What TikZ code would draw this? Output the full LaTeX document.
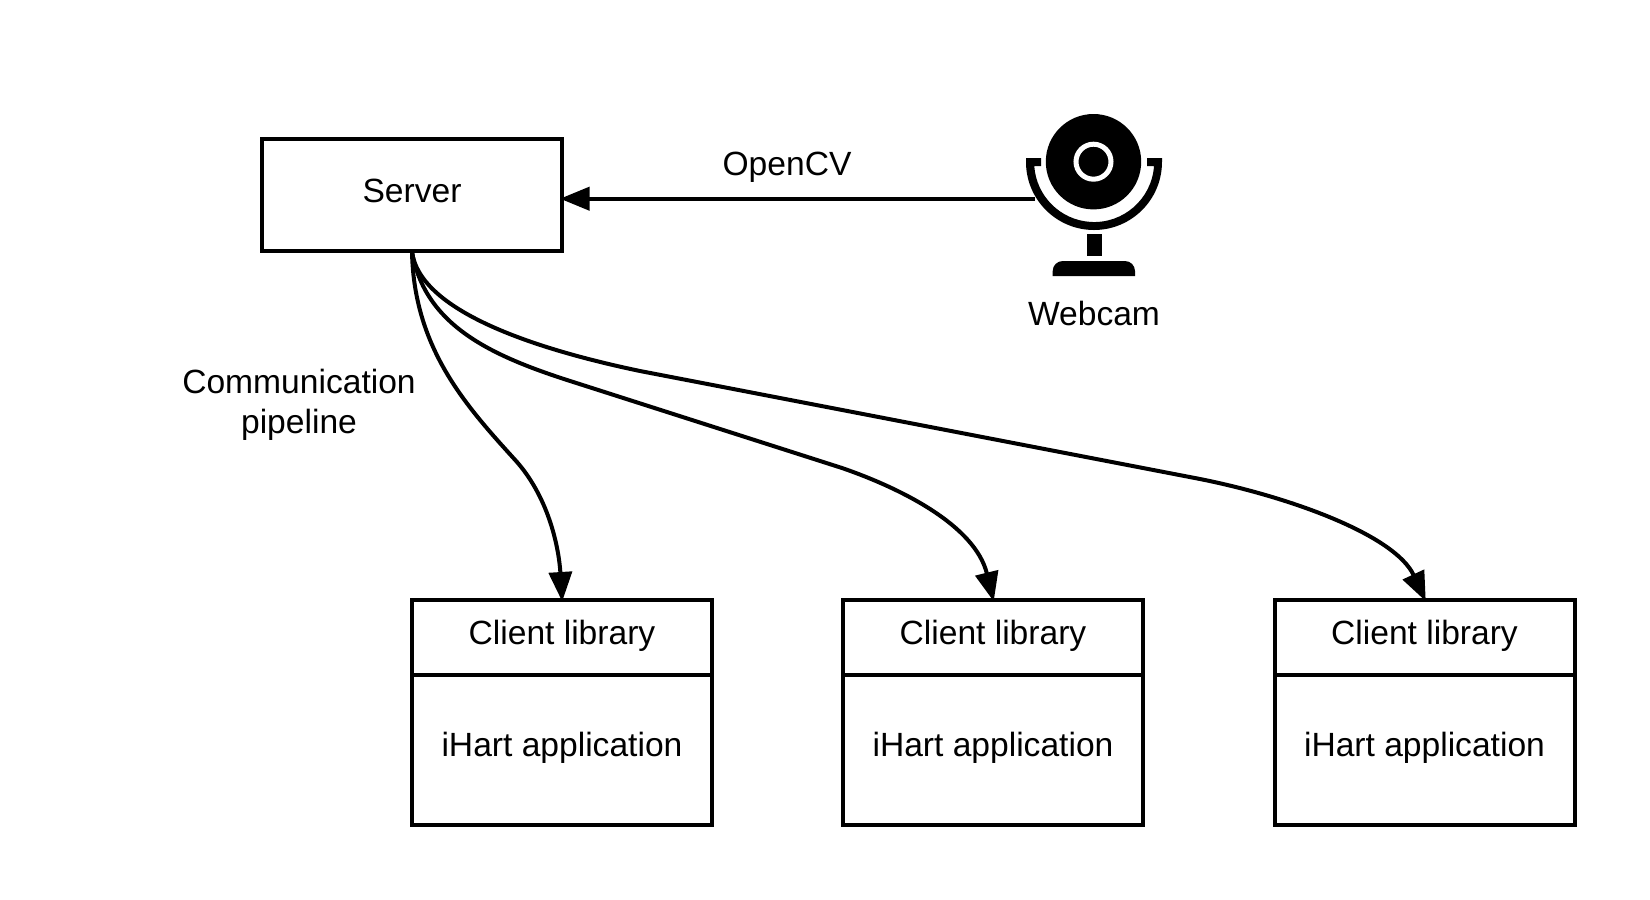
\documentclass[tikz,border=0pt]{standalone}
\usepackage{fontspec}
\setmainfont{Liberation Sans}
\usetikzlibrary{arrows.meta}

\tikzset{
  every node/.style={font=\fontsize{9.56}{11.4}\selectfont},
  framed/.style={draw,line width=0.04cm,inner sep=0pt,outer sep=0.01cm,text height=0.24cm,text depth=0.1cm},
  serverbox/.style={framed,minimum width=3cm,minimum height=1.12cm},
  libbox/.style={framed,minimum width=3cm,minimum height=0.75cm},
  appbox/.style={framed,minimum width=3cm,minimum height=1.5cm},
  link/.style={line width=0.04cm,->,>={Triangle[width=2.3mm,length=2.95mm]},shorten >=-0.03cm}
}

\begin{document}
\begin{tikzpicture}
\useasboundingbox (0,0) rectangle (16.5,-9);
\node[serverbox] (server) at (4.12,-1.95) {Server};
\node[libbox] (lib1) at (5.62,-6.37) {Client library};
\node[appbox] (app1) at (5.62,-7.495) {iHart application};
\node[libbox] (lib2) at (9.93,-6.37) {Client library};
\node[appbox] (app2) at (9.93,-7.495) {iHart application};
\node[libbox] (lib3) at (14.245,-6.37) {Client library};
\node[appbox] (app3) at (14.245,-7.495) {iHart application};
\node[anchor=base] (opencv) at (7.87,-1.75) {OpenCV};
\node[anchor=base] (webcam) at (10.94,-3.25) {Webcam};
\node[align=center] (pipeline) at (2.99,-4.05) {Communication\\pipeline};
% webcam icon
\fill (10.935,-1.617) circle (0.477);
\draw[white,line width=0.05cm] (10.935,-1.617) circle (0.175);
\fill (10.26,-1.58) -- (10.26,-1.62) arc[start angle=180,end angle=360,radius=0.68]
  -- (11.62,-1.58) -- (11.47,-1.58) -- (11.47,-1.66) -- (11.54,-1.66)
  arc[start angle=356.2,end angle=183.8,radius=0.6] -- (10.41,-1.66) -- (10.41,-1.58) -- cycle;
\fill (10.867,-2.34) rectangle (11.017,-2.557);
\fill (10.527,-2.76) [rounded corners=0.1cm] -- (10.527,-2.61) -- (11.35,-2.61) [sharp corners] -- (11.35,-2.76) -- cycle;
\coordinate (camjoin) at (10.35,-1.987);
\path[draw,link] (camjoin) -- (camjoin -| server.east);
\path[draw,link] (server.south) .. controls (4.14,-3.5) and (4.68,-4.08) .. (5.17,-4.62)
  .. controls (5.5,-5) and (5.59,-5.5) .. (lib1.north);
\path[draw,link] (server.south) .. controls (4.25,-3.25) and (4.9,-3.55) .. (5.67,-3.8)
  -- (8.42,-4.68) .. controls (9,-4.88) and (9.75,-5.25) .. (lib2.north);
\path[draw,link] (server.south) .. controls (4.2,-3.1) and (5.3,-3.48) .. (6.4,-3.71)
  -- (12,-4.79) .. controls (12.9,-4.97) and (13.95,-5.35) .. (lib3.north);
\end{tikzpicture}
\end{document}
